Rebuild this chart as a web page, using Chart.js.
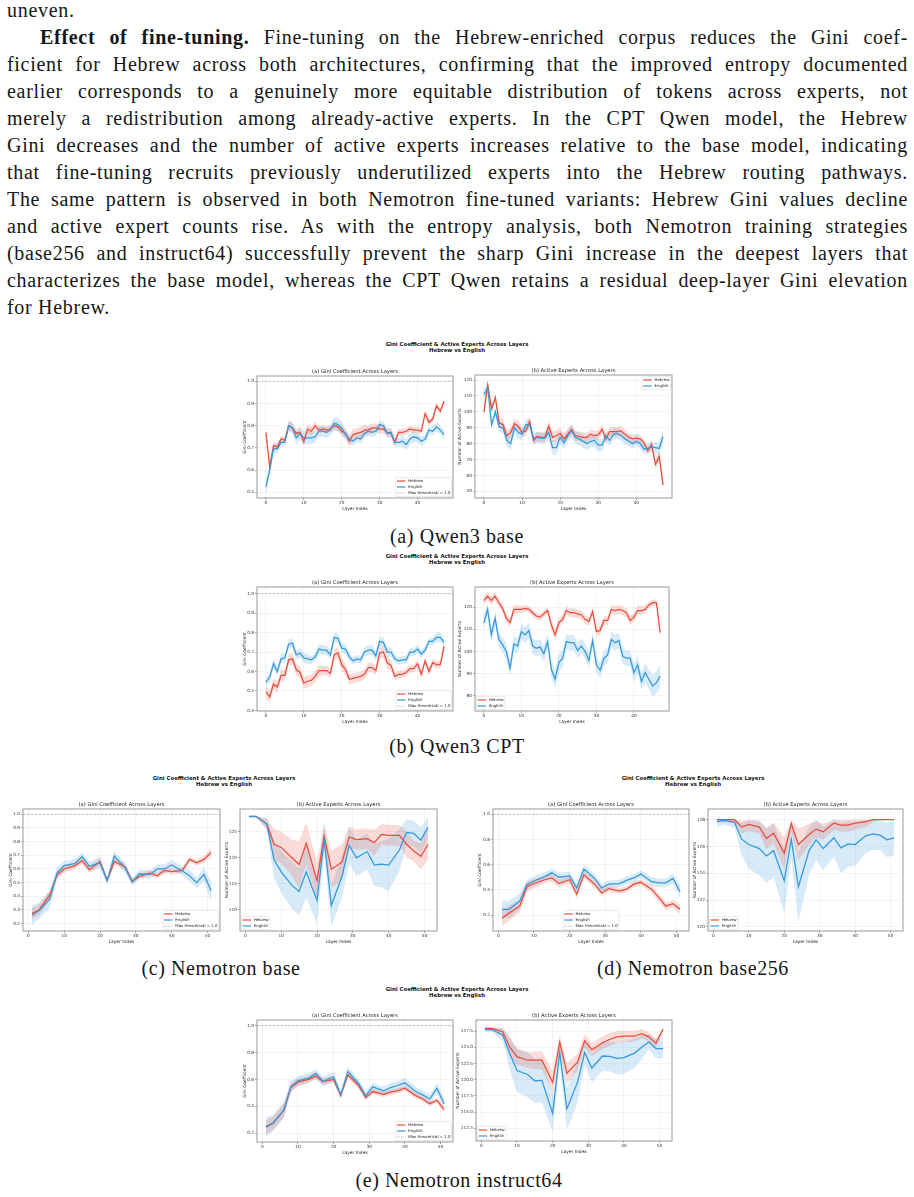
<!DOCTYPE html>
<html>
<head>
<meta charset="utf-8">
<script src="https://cdn.jsdelivr.net/npm/chart.js@4.4.1/dist/chart.umd.min.js"></script>
<style>
  body { margin: 0; background: #fff; }
  #page { position: relative; width: 914px; height: 1197px; overflow: hidden; background: #fff; }
  .txt { position: absolute; left: 7px; top: -3.5px; width: 901px; font-family: "Liberation Serif", "DejaVu Serif", serif; font-size: 20px; letter-spacing: 0.7px; line-height: 27px; color: #161616; }
  .ln { height: 27px; text-align: justify; text-align-last: justify; }
  .ln.last { text-align: left; text-align-last: left; }
  .cap { position: absolute; width: 400px; text-align: center; font-family: "Liberation Serif", serif; font-size: 20px; letter-spacing: 0.6px; line-height: 27px; color: #161616; }
  .sup { position: absolute; width: 800px; text-align: center; font-family: "DejaVu Sans", sans-serif; font-weight: bold; font-size: 10.8px; line-height: 12.6px; color: #111; transform: scale(0.5); transform-origin: 50% 0; }
</style>
</head>
<body>
<div id="page">
  <div class="txt">
    <div class="ln last">uneven.</div>
    <div class="ln" style="text-indent:33px"><b>Effect of fine-tuning.</b> Fine-tuning on the Hebrew-enriched corpus reduces the Gini coef-</div>
    <div class="ln">ficient for Hebrew across both architectures, confirming that the improved entropy documented</div>
    <div class="ln">earlier corresponds to a genuinely more equitable distribution of tokens across experts, not</div>
    <div class="ln">merely a redistribution among already-active experts. In the CPT Qwen model, the Hebrew</div>
    <div class="ln">Gini decreases and the number of active experts increases relative to the base model, indicating</div>
    <div class="ln">that fine-tuning recruits previously underutilized experts into the Hebrew routing pathways.</div>
    <div class="ln">The same pattern is observed in both Nemotron fine-tuned variants: Hebrew Gini values decline</div>
    <div class="ln">and active expert counts rise. As with the entropy analysis, both Nemotron training strategies</div>
    <div class="ln">(base256 and instruct64) successfully prevent the sharp Gini increase in the deepest layers that</div>
    <div class="ln">characterizes the base model, whereas the CPT Qwen retains a residual deep-layer Gini elevation</div>
    <div class="ln last">for Hebrew.</div>
  </div>

  <div class="sup" style="left:57px;top:340.9px">Gini Coefficient &amp; Active Experts Across Layers<br>Hebrew vs English</div>
  <div class="sup" style="left:57px;top:552.6px">Gini Coefficient &amp; Active Experts Across Layers<br>Hebrew vs English</div>
  <div class="sup" style="left:-176px;top:774.9px">Gini Coefficient &amp; Active Experts Across Layers<br>Hebrew vs English</div>
  <div class="sup" style="left:293px;top:774.9px">Gini Coefficient &amp; Active Experts Across Layers<br>Hebrew vs English</div>
  <div class="sup" style="left:57px;top:985.6px">Gini Coefficient &amp; Active Experts Across Layers<br>Hebrew vs English</div>

  <div class="cap" style="left:257px;top:522.5px">(a) Qwen3 base</div>
  <div class="cap" style="left:257px;top:732.5px">(b) Qwen3 CPT</div>
  <div class="cap" style="left:21px;top:954.5px">(c) Nemotron base</div>
  <div class="cap" style="left:493px;top:954.5px">(d) Nemotron base256</div>
  <div class="cap" style="left:259px;top:1166.5px">(e) Nemotron instruct64</div>
</div>

<script>
// ---- layers ----
var QWEN_LAYERS = [0,1,2,3,4,5,6,7,8,9,10,11,12,13,14,15,16,17,18,19,20,21,22,23,
                   24,25,26,27,28,29,30,31,32,33,34,35,36,37,38,39,40,41,42,43,44,45,46,47];
var NEMO_LAYERS = [1,3,6,8,10,13,15,17,20,22,24,27,29,31,34,36,38,40,43,45,47,49,51];

var MAX_GINI = 1.0;
var MAX_EXPERTS = 128;

// ---- Qwen3 base ----
var qBaseGiniHe = [0.77,0.615,0.71,0.705,0.74,0.735,0.80,0.79,0.765,0.77,
  0.728,0.785,0.775,0.80,0.78,0.785,0.78,0.785,0.80,0.795,
  0.775,0.765,0.73,0.76,0.765,0.77,0.78,0.78,0.79,0.79,
  0.785,0.785,0.77,0.765,0.725,0.77,0.77,0.775,0.785,0.78,
  0.78,0.775,0.855,0.815,0.83,0.89,0.865,0.91];
var qBaseGiniEn = [0.525,0.60,0.695,0.695,0.725,0.725,0.80,0.79,0.745,0.765,
  0.745,0.745,0.745,0.75,0.775,0.775,0.77,0.78,0.81,0.805,
  0.79,0.76,0.74,0.73,0.745,0.74,0.765,0.775,0.77,0.775,
  0.805,0.80,0.765,0.77,0.725,0.725,0.73,0.715,0.74,0.75,
  0.745,0.73,0.74,0.78,0.775,0.795,0.78,0.76];
var qBaseGiniHeSd = [0.02,0.02,0.015,0.015,0.015,0.015,0.02,0.02,0.02,0.02,
  0.02,0.02,0.02,0.02,0.015,0.015,0.015,0.015,0.02,0.02,
  0.02,0.02,0.025,0.025,0.025,0.025,0.025,0.02,0.02,0.02,
  0.02,0.02,0.02,0.02,0.02,0.015,0.015,0.015,0.015,0.015,
  0.015,0.015,0.015,0.015,0.015,0.015,0.015,0.015];
var qBaseGiniEnSd = [0.03,0.03,0.02,0.02,0.02,0.02,0.025,0.025,0.03,0.03,
  0.03,0.03,0.03,0.025,0.025,0.025,0.025,0.025,0.03,0.03,
  0.03,0.025,0.02,0.02,0.02,0.02,0.02,0.02,0.02,0.02,
  0.02,0.02,0.02,0.02,0.02,0.02,0.025,0.025,0.025,0.025,
  0.02,0.02,0.02,0.02,0.02,0.02,0.02,0.02];
var qBaseActHe = [100,117,102,109,93,92,85,87,92.5,91,
  87,88,94,82,84.5,84,84,91,84,85,
  86.5,83,86,89,85,84.5,84,84,86,85,
  85.5,89,83,87.5,87.5,87.5,88,86,84,83,
  83.5,83,80.5,75.5,79.5,67,72,54];
var qBaseActEn = [111,115,92,100,90.5,90,82,80,90,87,
  86,92,92,83.5,84,83.5,83.5,87,77.5,77.5,
  84,80.5,85,88,84,83,81.5,80,81.5,82,
  79,79,85,82,86,86.5,85,83,81.5,80,
  81.5,80,76.5,77,78,77.5,77,84.5];
var qBaseActHeSd = [4.5,3,3,3,3,3.5,3.5,3.5,3.5,3.5,
  3,3,3,3,3,3,3,3.5,3.5,3.5,
  3.5,3.5,3,3,3,3,3,3,3,3,
  3,3,3,3,3,3,3,3,2.5,2.5,
  2.5,2.5,2.5,2.5,2.5,3,3.5,4];
var qBaseActEnSd = [3.5,3,3,3,3,3.5,4,4,4,4,
  4,3.5,3.5,3.5,3.5,3.5,3.5,4,4.5,4.5,
  4,4,4,4,4,4,4,4,4,4,
  4,4,3.5,3.5,3.5,3.5,3.5,3.5,3,3,
  3,3,3,3,3.5,3.5,4,5];

// ---- Qwen3 CPT ----
var qCptGiniHe = [0.495,0.47,0.535,0.52,0.58,0.58,0.66,0.665,0.61,0.595,
  0.54,0.55,0.555,0.575,0.605,0.605,0.605,0.59,0.685,0.695,
  0.635,0.61,0.56,0.565,0.57,0.575,0.585,0.62,0.62,0.605,
  0.695,0.70,0.645,0.63,0.575,0.585,0.585,0.595,0.615,0.615,
  0.64,0.585,0.655,0.60,0.645,0.635,0.635,0.73];
var qCptGiniEn = [0.545,0.57,0.64,0.60,0.665,0.67,0.74,0.745,0.685,0.695,
  0.67,0.665,0.66,0.675,0.715,0.71,0.71,0.685,0.775,0.77,
  0.72,0.715,0.675,0.655,0.665,0.66,0.70,0.71,0.71,0.68,
  0.755,0.75,0.70,0.70,0.665,0.655,0.66,0.66,0.70,0.70,
  0.715,0.69,0.71,0.755,0.755,0.775,0.775,0.75];
var qCptGiniHeSd = [0.03,0.03,0.03,0.03,0.03,0.03,0.03,0.03,0.03,0.03,
  0.03,0.03,0.03,0.03,0.03,0.025,0.025,0.025,0.03,0.03,
  0.03,0.03,0.025,0.025,0.025,0.025,0.025,0.025,0.025,0.025,
  0.03,0.03,0.03,0.03,0.02,0.02,0.02,0.02,0.02,0.02,
  0.02,0.02,0.02,0.02,0.02,0.02,0.02,0.025];
var qCptGiniEnSd = [0.025,0.025,0.025,0.025,0.025,0.025,0.025,0.025,0.025,0.025,
  0.025,0.025,0.02,0.02,0.025,0.025,0.025,0.025,0.025,0.025,
  0.025,0.025,0.02,0.02,0.02,0.02,0.025,0.025,0.025,0.025,
  0.025,0.025,0.025,0.025,0.02,0.02,0.02,0.02,0.02,0.02,
  0.02,0.02,0.02,0.02,0.02,0.025,0.025,0.025];
var qCptActHe = [123,125,123,125,122,119.5,115,113,119,119,
  119,119.5,119,117.5,116,115.5,117,118.5,112,107.5,
  113,114.5,118.5,117.5,117.5,117,116.5,114.5,113.5,118,
  109,109.5,114,114,119,118.5,119,118.5,117.5,114,
  115.5,118.5,118.5,119,121,122,122,108.5];
var qCptActEn = [113,119,107.5,115,105.5,103,100,92.5,103.5,102.5,
  109,107.5,109.5,102.5,101.5,102,99,104.5,92,87.5,
  95,97,104.5,104,104,100.5,102.5,100,96,105,
  94,91.5,97,98.5,105.5,104,105,98,97,97,
  90.5,94,86.5,90.5,87.5,84.5,86,89];
var qCptActHeSd = [2,2,2,2,2,2,2,2,2,2,
  1.5,1.5,1.5,1.5,1.5,1.5,1.5,1.5,2.5,2.5,
  2,2,2,2,2,2,2,2,2,2,
  2,2,2,2,2,2,2,2,2,2,
  2,2,2,2,1.5,1.5,1.5,2];
var qCptActEnSd = [3,3,3,3,3,3.5,3.5,3.5,3.5,3.5,
  3.5,3.5,3.5,3.5,3.5,3.5,3.5,3.5,4,4,
  4,4,3.5,3.5,3.5,3.5,3.5,3.5,3.5,3.5,
  3.5,3.5,3.5,3.5,3.5,3.5,3.5,3.5,3.5,3.5,
  4,4,4,4.5,4.5,5,5,5];

// ---- Nemotron base ----
var nBaseGiniHe = [0.275,0.30,0.41,0.555,0.60,0.625,0.66,0.595,0.655,0.515,0.655,0.615,0.51,0.545,0.57,0.55,0.59,0.58,0.59,0.67,0.645,0.67,0.72];
var nBaseGiniEn = [0.26,0.295,0.38,0.57,0.625,0.64,0.69,0.62,0.645,0.515,0.695,0.61,0.505,0.565,0.56,0.60,0.60,0.63,0.585,0.55,0.50,0.56,0.44];
var nBaseGiniHeSd = [0.04,0.04,0.035,0.03,0.03,0.025,0.025,0.025,0.025,0.02,0.025,0.025,0.02,0.02,0.02,0.02,0.02,0.02,0.02,0.02,0.02,0.025,0.03];
var nBaseGiniEnSd = [0.07,0.06,0.06,0.04,0.035,0.03,0.035,0.035,0.04,0.03,0.035,0.035,0.03,0.03,0.03,0.035,0.035,0.035,0.035,0.04,0.04,0.05,0.07];
var nBaseActHe = [128,128,126.5,122.6,122,120,118.7,122.8,115.6,124.2,117.8,119.2,124,123.5,123.7,122.9,124.5,124.3,124.3,122.6,121.3,120.3,122.6];
var nBaseActEn = [128,128,126.5,119.6,117.3,114.7,113.5,117.3,111.8,123.5,110.8,116.5,122.4,120,121.2,118.6,118.8,118.6,121.5,124.9,124.7,123.4,125.9];
var nBaseActHeSd = [0.3,0.3,1,3,3,3.5,4.5,4,3.5,2.5,3.5,3.5,2,2,2,2.5,2,2,2,2.5,2,2.5,3];
var nBaseActEnSd = [0.3,0.3,1,3.5,4,4.5,4.5,5,4.5,3,4,4,3.5,3.5,3.5,4,4.5,5,4,2.5,2.5,2.5,2];

// ---- Nemotron base256 ----
var n256GiniHe = [0.175,0.215,0.27,0.425,0.45,0.48,0.495,0.45,0.48,0.365,0.52,0.445,0.375,0.41,0.39,0.405,0.445,0.46,0.405,0.34,0.27,0.29,0.245];
var n256GiniEn = [0.245,0.245,0.31,0.44,0.47,0.505,0.535,0.50,0.51,0.415,0.565,0.49,0.415,0.445,0.45,0.475,0.495,0.525,0.465,0.455,0.455,0.49,0.385];
var n256GiniHeSd = [0.06,0.06,0.05,0.04,0.035,0.03,0.03,0.03,0.03,0.03,0.03,0.03,0.025,0.025,0.025,0.025,0.025,0.025,0.03,0.03,0.03,0.03,0.04];
var n256GiniEnSd = [0.07,0.07,0.06,0.04,0.04,0.035,0.035,0.035,0.035,0.035,0.035,0.035,0.03,0.03,0.03,0.03,0.03,0.03,0.035,0.035,0.035,0.04,0.05];
var n256ActHe = [128,128,128,127.45,127.65,127.45,126.6,127.0,125.5,127.7,126.15,126.9,127.3,127.1,127.75,127.6,127.6,127.75,127.85,128,128,128,128];
var n256ActEn = [127.85,127.95,127.8,126.55,126.15,125.85,125.3,125.7,123.45,126.55,123.0,125.7,126.5,125.85,126.65,125.9,126.2,126.15,126.8,126.95,126.85,126.5,126.65];
var n256ActHeSd = [0.2,0.2,0.2,0.5,0.5,0.5,0.8,0.8,1.2,0.6,1.2,0.8,0.6,0.6,0.5,0.5,0.5,0.5,0.4,0.2,0,0,0];
var n256ActEnSd = [0.4,0.3,0.4,1.2,1.8,2,2,2,2.4,1.5,2.6,1.8,1.5,1.6,1.4,1.9,1.7,1.6,1.3,1.2,1.1,1.3,1.3];

// ---- Nemotron instruct64 ----
var nI64GiniHe = [0.245,0.275,0.37,0.54,0.58,0.60,0.625,0.585,0.60,0.48,0.635,0.555,0.465,0.51,0.49,0.505,0.515,0.535,0.48,0.455,0.42,0.445,0.375];
var nI64GiniEn = [0.25,0.275,0.37,0.545,0.59,0.61,0.645,0.585,0.62,0.485,0.66,0.57,0.48,0.545,0.515,0.54,0.555,0.575,0.51,0.485,0.455,0.535,0.42];
var nI64GiniHeSd = [0.05,0.05,0.05,0.035,0.03,0.025,0.025,0.025,0.025,0.02,0.025,0.025,0.02,0.02,0.02,0.02,0.02,0.02,0.02,0.02,0.02,0.02,0.02];
var nI64GiniEnSd = [0.07,0.06,0.06,0.04,0.035,0.035,0.035,0.035,0.035,0.03,0.035,0.035,0.03,0.03,0.03,0.035,0.035,0.035,0.035,0.035,0.035,0.04,0.04];
var nI64ActHe = [127.9,127.9,127.4,125.0,123.55,123.0,123.0,123.0,119.6,125.8,121.0,122.7,126.0,124.6,125.7,126.2,126.6,126.7,126.7,127.1,126.6,125.6,127.8];
var nI64ActEn = [127.7,127.7,126.9,124.0,121.4,120.8,119.8,119.9,114.8,124.2,115.5,119.6,124.2,121.8,123.65,123.6,123.3,123.4,124.1,125.0,125.8,124.8,124.8];
var nI64ActHeSd = [0.3,0.3,0.8,1.5,1.3,1.2,1.4,1.4,1.7,1,1.6,1.3,1,1,1,1,0.9,0.9,0.8,0.7,0.7,0.7,0.5];
var nI64ActEnSd = [0.3,0.3,1,2.5,3.3,3.5,3.4,3.4,2.8,1.6,3.2,3.1,1.8,2.2,2.3,2.3,2.5,2.5,2.3,1.8,1.2,1.5,1.5];

// ---- tick labels ----
var X_TICKS_QWEN = [0,10,20,30,40];
var X_TICKS_NEMO = [0,10,20,30,40,50];
var Y_TICKS_GINI_QBASE = [0.5,0.6,0.7,0.8,0.9,1.0];
var Y_TICKS_GINI_QCPT = [0.4,0.5,0.6,0.7,0.8,0.9,1.0];
var Y_TICKS_GINI_NBASE = [0.2,0.3,0.4,0.5,0.6,0.7,0.8,0.9,1.0];
var Y_TICKS_GINI_NFT = [0.2,0.4,0.6,0.8,1.0];
var Y_TICKS_ACT_QBASE = [50,60,70,80,90,100,110,120];
var Y_TICKS_ACT_QCPT = [80,90,100,110,120];
var Y_TICKS_ACT_NBASE = [110,115,120,125];
var Y_TICKS_ACT_N256 = [120,122,124,126,128];
var Y_TICKS_ACT_NI64 = [112.5,115.0,117.5,120.0,122.5,125.0,127.5];

// ---- styling ----
var RED = '#e74c3c', BLUE = '#3498db';
var RED_BAND = 'rgba(231,76,60,0.2)', BLUE_BAND = 'rgba(52,152,219,0.2)';
var FONT = '"DejaVu Sans", sans-serif';
Chart.defaults.font.family = FONT;

function pts(xs, ys) { return xs.map(function (x, i) { return {x: x, y: ys[i]}; }); }
function lower(xs, ys, sd) { return xs.map(function (x, i) { return {x: x, y: ys[i] - sd[i]}; }); }
function upper(xs, ys, sd, cap) { return xs.map(function (x, i) { return {x: x, y: Math.min(cap, ys[i] + sd[i])}; }); }

// frame, subplot title, reference line and legend drawn inside the chart
var panelPlugin = {
  id: 'panel',
  beforeDatasetsDraw: function (chart, args, o) {
    if (!o.maxLine) return;
    var ctx = chart.ctx, a = chart.chartArea;
    var y = chart.scales.y.getPixelForValue(MAX_GINI);
    ctx.save();
    ctx.strokeStyle = 'rgba(128,128,128,0.55)';
    ctx.lineWidth = 0.8;
    ctx.setLineDash([2.6, 1.3]);
    ctx.beginPath(); ctx.moveTo(a.left, y); ctx.lineTo(a.right, y); ctx.stroke();
    ctx.restore();
  },
  afterDatasetsDraw: function (chart, args, o) {
    var ctx = chart.ctx, a = chart.chartArea;
    var items = [{label: 'Hebrew', color: RED}, {label: 'English', color: BLUE}];
    if (o.maxLine) items.push({label: 'Max theoretical = 1.0', color: 'rgba(128,128,128,0.55)', dash: true});
    var fs = 3.9, rowH = 6, pad = 1.2, lineLen = 8.5, gap = 2.8, m = 1.4;
    ctx.save();
    ctx.font = fs + 'px ' + FONT;
    var tw = Math.max.apply(null, items.map(function (it) { return ctx.measureText(it.label).width; }));
    var w = pad * 2 + lineLen + gap + tw, h = pad * 2 + rowH * items.length - 1.2;
    var x, y;
    if (o.legend === 'ur') { x = a.right - m - w; y = a.top + m; }
    else if (o.legend === 'll') { x = a.left + m; y = a.bottom - m - h; }
    else if (o.legend === 'lc') { x = (a.left + a.right) / 2 - w / 2; y = a.bottom - m - h; }
    else { x = a.right - m - w; y = a.bottom - m - h; }
    ctx.fillStyle = 'rgba(255,255,255,0.85)';
    ctx.strokeStyle = '#d4d4d4';
    ctx.lineWidth = 0.5;
    ctx.beginPath(); ctx.roundRect(x, y, w, h, 1); ctx.fill(); ctx.stroke();
    items.forEach(function (it, i) {
      var cy = y + pad + rowH * (i + 0.5) - 0.6;
      ctx.strokeStyle = it.color;
      ctx.lineWidth = it.dash ? 0.8 : 1.2;
      ctx.setLineDash(it.dash ? [2.6, 1.3] : []);
      ctx.beginPath(); ctx.moveTo(x + pad, cy); ctx.lineTo(x + pad + lineLen, cy); ctx.stroke();
      ctx.fillStyle = '#222';
      ctx.textBaseline = 'middle';
      ctx.fillText(it.label, x + pad + lineLen + gap, cy);
    });
    ctx.restore();
  },
  afterDraw: function (chart, args, o) {
    var ctx = chart.ctx, a = chart.chartArea;
    ctx.save();
    ctx.strokeStyle = '#808080';
    ctx.lineWidth = 0.8;
    ctx.strokeRect(a.left, a.top, a.right - a.left, a.bottom - a.top);
    ctx.fillStyle = '#222';
    ctx.font = '5.2px ' + FONT;
    ctx.textAlign = 'center';
    ctx.textBaseline = 'bottom';
    ctx.fillText(o.title, (a.left + a.right) / 2, a.top - 1.5);
    ctx.restore();
  }
};

function panel(s) {
  var L = s.box[0], T = s.box[1], R = s.box[2], B = s.box[3], yOff = s.box[4];
  var W = yOff + 6, H = 14, PT = 12, PR = 4;
  var cv = document.createElement('canvas');
  cv.width = R - L + W + PR;
  cv.height = B - T + PT + H;
  cv.style.cssText = 'position:absolute;left:' + (L - W) + 'px;top:' + (T - PT) + 'px;width:' +
    cv.width + 'px;height:' + cv.height + 'px';
  document.getElementById('page').appendChild(cv);

  var xs = s.xs, first = xs[0], last = xs[xs.length - 1];
  var span = last - first;
  var cap = s.cap === undefined ? Infinity : s.cap;
  var grid = {color: 'rgba(0,0,0,0.075)', lineWidth: 0.6, tickLength: 2, tickColor: '#777', tickWidth: 0.6};
  var tickFont = {size: 4.3, family: FONT};
  var labFont = {size: 4.4, family: FONT};

  new Chart(cv, {
    type: 'line',
    data: {
      datasets: [
        {data: lower(xs, s.he, s.heSd), borderColor: 'transparent', borderWidth: 0, pointRadius: 0, fill: false, order: 5},
        {data: upper(xs, s.he, s.heSd, cap), borderColor: 'transparent', borderWidth: 0, pointRadius: 0, fill: '-1', backgroundColor: RED_BAND, order: 5},
        {data: lower(xs, s.en, s.enSd), borderColor: 'transparent', borderWidth: 0, pointRadius: 0, fill: false, order: 5},
        {data: upper(xs, s.en, s.enSd, cap), borderColor: 'transparent', borderWidth: 0, pointRadius: 0, fill: '-1', backgroundColor: BLUE_BAND, order: 5},
        {label: 'Hebrew', data: pts(xs, s.he), borderColor: RED, borderWidth: 1.25, pointRadius: 0, fill: false, tension: 0, order: 2},
        {label: 'English', data: pts(xs, s.en), borderColor: BLUE, borderWidth: 1.25, pointRadius: 0, fill: false, tension: 0, order: 1}
      ]
    },
    options: {
      responsive: false,
      animation: false,
      devicePixelRatio: 1,
      layout: {padding: {left: 0, top: PT, right: PR, bottom: 0}},
      plugins: {
        legend: {display: false},
        tooltip: {enabled: false},
        panel: {title: s.title, legend: s.legend, maxLine: s.maxLine}
      },
      scales: {
        x: {
          type: 'linear',
          min: first - 0.05 * span,
          max: last + 0.05 * span,
          afterBuildTicks: function (sc) { sc.ticks = s.xTicks.map(function (v) { return {value: v}; }); },
          afterFit: function (sc) { sc.height = H; },
          grid: grid,
          border: {display: false},
          ticks: {font: tickFont, color: '#333', padding: 0, maxRotation: 0, autoSkip: false,
                  callback: function (v) { return String(v); }},
          title: {display: true, text: 'Layer Index', font: labFont, color: '#222', padding: {top: 0, bottom: 0.3}}
        },
        y: {
          type: 'linear',
          min: s.yMin,
          max: s.yMax,
          afterBuildTicks: function (sc) { sc.ticks = s.yTicks.map(function (v) { return {value: v}; }); },
          afterFit: function (sc) { sc.width = W; },
          grid: grid,
          border: {display: false},
          ticks: {font: tickFont, color: '#333', padding: 1, autoSkip: false,
                  callback: function (v) { return Number(v).toFixed(s.dec); }},
          title: {display: true, text: s.ytitle, font: labFont, color: '#222', padding: {top: 3.36, bottom: 0}}
        }
      }
    },
    plugins: [panelPlugin]
  });
}

var GINI = 'Gini Coefficient', ACT = 'Number of Active Experts';
var T_GINI = '(a) Gini Coefficient Across Layers', T_ACT = '(b) Active Experts Across Layers';

// (a) Qwen3 base
panel({box: [257, 376, 453, 498, 12], title: T_GINI, ytitle: GINI, xs: QWEN_LAYERS,
  he: qBaseGiniHe, heSd: qBaseGiniHeSd, en: qBaseGiniEn, enSd: qBaseGiniEnSd,
  yMin: 0.474, yMax: 1.024, yTicks: Y_TICKS_GINI_QBASE, xTicks: X_TICKS_QWEN, dec: 1, legend: 'lr', maxLine: true});
panel({box: [475, 375, 672, 498, 15], title: T_ACT, ytitle: ACT, xs: QWEN_LAYERS,
  he: qBaseActHe, heSd: qBaseActHeSd, en: qBaseActEn, enSd: qBaseActEnSd,
  yMin: 45.8, yMax: 123.2, yTicks: Y_TICKS_ACT_QBASE, xTicks: X_TICKS_QWEN, dec: 0, legend: 'ur', maxLine: false});

// (b) Qwen3 CPT
panel({box: [257, 587, 453, 711, 12], title: T_GINI, ytitle: GINI, xs: QWEN_LAYERS,
  he: qCptGiniHe, heSd: qCptGiniHeSd, en: qCptGiniEn, enSd: qCptGiniEnSd,
  yMin: 0.397, yMax: 1.034, yTicks: Y_TICKS_GINI_QCPT, xTicks: X_TICKS_QWEN, dec: 1, legend: 'lr', maxLine: true});
panel({box: [475, 587, 669, 711, 15], title: T_ACT, ytitle: ACT, xs: QWEN_LAYERS,
  he: qCptActHe, heSd: qCptActHeSd, en: qCptActEn, enSd: qCptActEnSd,
  yMin: 73.2, yMax: 129.1, yTicks: Y_TICKS_ACT_QCPT, xTicks: X_TICKS_QWEN, dec: 0, legend: 'll', maxLine: false});

// (c) Nemotron base
panel({box: [23, 809, 220, 931, 12], title: T_GINI, ytitle: GINI, xs: NEMO_LAYERS,
  he: nBaseGiniHe, heSd: nBaseGiniHeSd, en: nBaseGiniEn, enSd: nBaseGiniEnSd,
  yMin: 0.146, yMax: 1.039, yTicks: Y_TICKS_GINI_NBASE, xTicks: X_TICKS_NEMO, dec: 1, legend: 'lr', maxLine: true});
panel({box: [240, 809, 437, 931, 13], title: T_ACT, ytitle: ACT, xs: NEMO_LAYERS,
  he: nBaseActHe, heSd: nBaseActHeSd, en: nBaseActEn, enSd: nBaseActEnSd, cap: MAX_EXPERTS,
  yMin: 105.9, yMax: 129.4, yTicks: Y_TICKS_ACT_NBASE, xTicks: X_TICKS_NEMO, dec: 0, legend: 'll', maxLine: false});

// (d) Nemotron base256
panel({box: [493, 809, 689, 931, 13], title: T_GINI, ytitle: GINI, xs: NEMO_LAYERS,
  he: n256GiniHe, heSd: n256GiniHeSd, en: n256GiniEn, enSd: n256GiniEnSd,
  yMin: 0.073, yMax: 1.042, yTicks: Y_TICKS_GINI_NFT, xTicks: X_TICKS_NEMO, dec: 1, legend: 'lc', maxLine: true});
panel({box: [708, 809, 903, 931, 13], title: T_ACT, ytitle: ACT, xs: NEMO_LAYERS,
  he: n256ActHe, heSd: n256ActHeSd, en: n256ActEn, enSd: n256ActEnSd, cap: MAX_EXPERTS,
  yMin: 119.7, yMax: 128.8, yTicks: Y_TICKS_ACT_N256, xTicks: X_TICKS_NEMO, dec: 0, legend: 'll', maxLine: false});

// (e) Nemotron instruct64
panel({box: [257, 1020, 453, 1142, 12], title: T_GINI, ytitle: GINI, xs: NEMO_LAYERS,
  he: nI64GiniHe, heSd: nI64GiniHeSd, en: nI64GiniEn, enSd: nI64GiniEnSd,
  yMin: 0.135, yMax: 1.042, yTicks: Y_TICKS_GINI_NFT, xTicks: X_TICKS_NEMO, dec: 1, legend: 'lr', maxLine: true});
panel({box: [476, 1020, 672, 1141, 18], title: T_ACT, ytitle: ACT, xs: NEMO_LAYERS,
  he: nI64ActHe, heSd: nI64ActHeSd, en: nI64ActEn, enSd: nI64ActEnSd, cap: MAX_EXPERTS,
  yMin: 110.55, yMax: 129.2, yTicks: Y_TICKS_ACT_NI64, xTicks: X_TICKS_NEMO, dec: 1, legend: 'll', maxLine: false});
</script>
</body>
</html>
